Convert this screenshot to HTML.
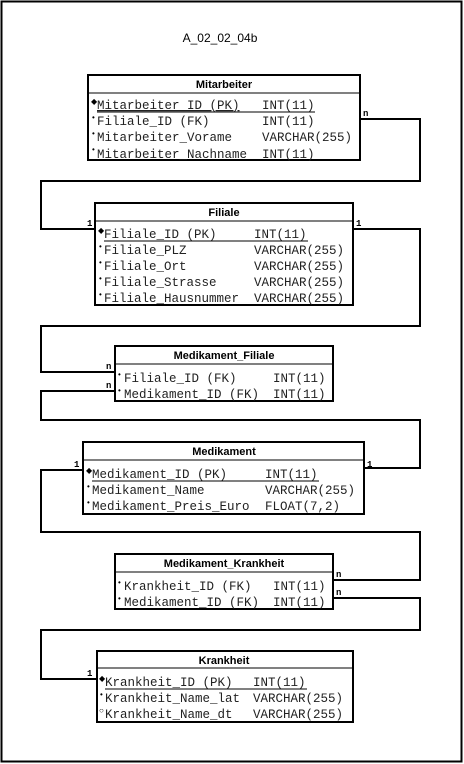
<!DOCTYPE html>
<html><head><meta charset="utf-8"><style>
html,body{margin:0;padding:0;background:#fff;}
svg{display:block;}
.m{font-family:"Liberation Mono",monospace;font-size:12.5px;fill:#222;}
.h{font-family:"Liberation Sans",sans-serif;font-size:11px;font-weight:bold;fill:#000;}
.s{font-family:"Liberation Mono",monospace;font-size:9px;font-weight:bold;fill:#000;}
.d{font-family:"Liberation Sans",sans-serif;font-size:8px;fill:#000;}
</style></head><body>
<svg width="464" height="764" viewBox="0 0 464 764" xmlns="http://www.w3.org/2000/svg">
<rect x="1.5" y="1.5" width="460" height="760" fill="#fff" stroke="#000" stroke-width="2"/>
<text x="220" y="42" text-anchor="middle" font-family="Liberation Sans, sans-serif" font-size="12" fill="#000">A_02_02_04b</text>

<g fill="none" stroke="#000" stroke-width="2">
<polyline points="360,119 420,119 420,181 41,181 41,229 95,229"/>
<polyline points="353,229 420,229 420,326 41,326 41,372 115,372"/>
<polyline points="115,391 41,391 41,420 420,420 420,468 364,468"/>
<polyline points="83,470 41,470 41,532 420,532 420,580 333,580"/>
<polyline points="333,598 420,598 420,630 41,630 41,679 97,679"/>
</g>
<g class="s">
<text x="363" y="116">n</text>
<text x="87" y="226">1</text>
<text x="356" y="226">1</text>
<text x="106" y="369">n</text>
<text x="106" y="388">n</text>
<text x="74" y="467">1</text>
<text x="367" y="467">1</text>
<text x="336" y="577">n</text>
<text x="336" y="595">n</text>
<text x="87" y="676">1</text>
</g>

<!-- Mitarbeiter -->
<g>
<rect x="88" y="75" width="272" height="85" fill="#fff" stroke="#000" stroke-width="2"/>
<line x1="88" y1="93" x2="360" y2="93" stroke="#000" stroke-width="1"/>
<text class="h" x="224" y="88" text-anchor="middle">Mitarbeiter</text>
<text class="d" x="91" y="104">◆</text>
<text class="m" x="97" y="109" text-decoration="underline">Mitarbeiter_ID (PK)</text>
<line x1="97" y1="112" x2="315" y2="112" stroke="#000" stroke-width="1"/>
<text class="m" x="262" y="109">INT(11)</text>
<text class="d" x="92" y="120">•</text>
<text class="m" x="97" y="125">Filiale_ID (FK)</text><text class="m" x="262" y="125">INT(11)</text>
<text class="d" x="92" y="136">•</text>
<text class="m" x="97" y="141">Mitarbeiter_Vorame</text><text class="m" x="262" y="141">VARCHAR(255)</text>
<text class="d" x="92" y="152">•</text>
<text class="m" x="97" y="158">Mitarbeiter_Nachname</text><text class="m" x="262" y="158">INT(11)</text>
</g>

<!-- Filiale -->
<g>
<rect x="95" y="203" width="258" height="102" fill="#fff" stroke="#000" stroke-width="2"/>
<line x1="95" y1="221" x2="353" y2="221" stroke="#000" stroke-width="1"/>
<text class="h" x="224" y="216" text-anchor="middle">Filiale</text>
<text class="d" x="98" y="233">◆</text>
<text class="m" x="104" y="238">Filiale_ID (PK)</text>
<line x1="104" y1="241" x2="308" y2="241" stroke="#000" stroke-width="1"/>
<text class="m" x="254" y="238">INT(11)</text>
<text class="d" x="99" y="249">•</text>
<text class="m" x="104" y="254">Filiale_PLZ</text><text class="m" x="254" y="254">VARCHAR(255)</text>
<text class="d" x="99" y="265">•</text>
<text class="m" x="104" y="270">Filiale_Ort</text><text class="m" x="254" y="270">VARCHAR(255)</text>
<text class="d" x="99" y="281">•</text>
<text class="m" x="104" y="286">Filiale_Strasse</text><text class="m" x="254" y="286">VARCHAR(255)</text>
<text class="d" x="99" y="297">•</text>
<text class="m" x="104" y="302">Filiale_Hausnummer</text><text class="m" x="254" y="302">VARCHAR(255)</text>
</g>

<!-- Medikament_Filiale -->
<g>
<rect x="115" y="346" width="218" height="55" fill="#fff" stroke="#000" stroke-width="2"/>
<line x1="115" y1="364" x2="333" y2="364" stroke="#000" stroke-width="1"/>
<text class="h" x="224" y="359" text-anchor="middle">Medikament_Filiale</text>
<text class="d" x="118" y="377">•</text>
<text class="m" x="124" y="382">Filiale_ID (FK)</text><text class="m" x="273" y="382">INT(11)</text>
<text class="d" x="118" y="393">•</text>
<text class="m" x="124" y="398">Medikament_ID (FK)</text><text class="m" x="273" y="398">INT(11)</text>
</g>

<!-- Medikament -->
<g>
<rect x="83" y="442" width="281" height="72" fill="#fff" stroke="#000" stroke-width="2"/>
<line x1="83" y1="460" x2="364" y2="460" stroke="#000" stroke-width="1"/>
<text class="h" x="224" y="455" text-anchor="middle">Medikament</text>
<text class="d" x="86" y="473">◆</text>
<text class="m" x="92" y="478">Medikament_ID (PK)</text>
<line x1="92" y1="481" x2="319" y2="481" stroke="#000" stroke-width="1"/>
<text class="m" x="265" y="478">INT(11)</text>
<text class="d" x="87" y="489">•</text>
<text class="m" x="92" y="494">Medikament_Name</text><text class="m" x="265" y="494">VARCHAR(255)</text>
<text class="d" x="87" y="505">•</text>
<text class="m" x="92" y="510">Medikament_Preis_Euro</text><text class="m" x="265" y="510">FLOAT(7,2)</text>
</g>

<!-- Medikament_Krankheit -->
<g>
<rect x="115" y="554" width="218" height="55" fill="#fff" stroke="#000" stroke-width="2"/>
<line x1="115" y1="572" x2="333" y2="572" stroke="#000" stroke-width="1"/>
<text class="h" x="224" y="567" text-anchor="middle">Medikament_Krankheit</text>
<text class="d" x="118" y="585">•</text>
<text class="m" x="124" y="590">Krankheit_ID (FK)</text><text class="m" x="273" y="590">INT(11)</text>
<text class="d" x="118" y="601">•</text>
<text class="m" x="124" y="606">Medikament_ID (FK)</text><text class="m" x="273" y="606">INT(11)</text>
</g>

<!-- Krankheit -->
<g>
<rect x="97" y="651" width="256" height="71" fill="#fff" stroke="#000" stroke-width="2"/>
<line x1="97" y1="668" x2="353" y2="668" stroke="#000" stroke-width="1"/>
<text class="h" x="224" y="664" text-anchor="middle">Krankheit</text>
<text class="d" x="99" y="681">◆</text>
<text class="m" x="105" y="686">Krankheit_ID (PK)</text>
<line x1="105" y1="689" x2="307" y2="689" stroke="#000" stroke-width="1"/>
<text class="m" x="253" y="686">INT(11)</text>
<text class="d" x="100" y="697">•</text>
<text class="m" x="105" y="702">Krankheit_Name_lat</text><text class="m" x="253" y="702">VARCHAR(255)</text>
<text class="d" x="99" y="713">○</text>
<text class="m" x="105" y="718">Krankheit_Name_dt</text><text class="m" x="253" y="718">VARCHAR(255)</text>
</g>
</svg>
</body></html>
